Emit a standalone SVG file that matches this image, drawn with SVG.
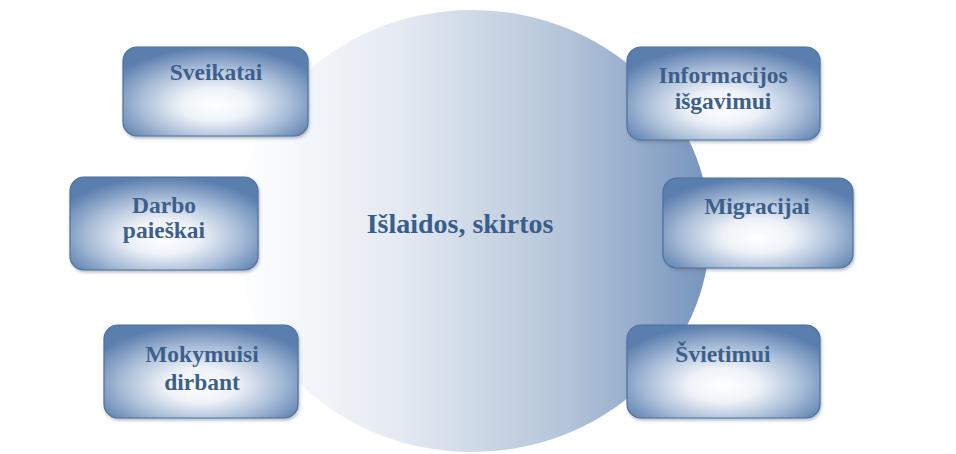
<svg xmlns="http://www.w3.org/2000/svg" width="956" height="454" viewBox="0 0 956 454">
  <defs>
    <linearGradient id="gBig" x1="0" y1="0" x2="1" y2="0">
      <stop offset="0" stop-color="#ffffff"/>
      <stop offset="0.35" stop-color="#e4eaf2"/>
      <stop offset="0.7" stop-color="#b4c4d9"/>
      <stop offset="1" stop-color="#7594bd"/>
    </linearGradient>
    <radialGradient id="gBox" cx="0.5" cy="0.62" r="0.62" fx="0.5" fy="0.66">
      <stop offset="0" stop-color="#ffffff"/>
      <stop offset="0.3" stop-color="#eef2f8"/>
      <stop offset="0.65" stop-color="#a9bdd8"/>
      <stop offset="1" stop-color="#5a7eae"/>
    </radialGradient>
    <filter id="sh" x="-10%" y="-10%" width="125%" height="130%">
      <feDropShadow dx="1" dy="2" stdDeviation="1.5" flood-color="#5a6e88" flood-opacity="0.45"/>
    </filter>
  </defs>
  <style>
    .box { fill: url(#gBox); stroke: #4f719e; stroke-width: 1.2; filter: url(#sh); }
    .lbl { font-family: "Liberation Serif", "Times New Roman", serif; font-weight: bold; font-size: 23.5px; fill: #3d5f8c; text-anchor: middle; }
    .main { font-family: "Liberation Serif", "Times New Roman", serif; font-weight: bold; font-size: 28px; fill: #3a5d8b; text-anchor: middle; }
  </style>
  <rect width="956" height="454" fill="#ffffff"/>
  <g id="center">
    <ellipse cx="472" cy="231" rx="238" ry="221" fill="url(#gBig)"/>
    <text class="main" x="460" y="233">Išlaidos, skirtos</text>
  </g>
  <g id="connectors"></g>
  <g id="sveikatai">
    <rect class="box" x="123" y="47" width="185" height="89" rx="14"/>
    <text class="lbl" x="216" y="80">Sveikatai</text>
  </g>
  <g id="informacijos">
    <rect class="box" x="627" y="47" width="193" height="93" rx="14"/>
    <text class="lbl" x="723" y="83">Informacijos</text>
    <text class="lbl" x="723" y="109">išgavimui</text>
  </g>
  <g id="darbo">
    <rect class="box" x="70" y="177" width="188" height="93" rx="14"/>
    <text class="lbl" x="164" y="213">Darbo</text>
    <text class="lbl" x="164" y="238">paieškai</text>
  </g>
  <g id="migracijai">
    <rect class="box" x="663" y="178" width="190" height="90" rx="14"/>
    <text class="lbl" x="757" y="214">Migracijai</text>
  </g>
  <g id="mokymuisi">
    <rect class="box" x="104" y="325" width="194" height="93" rx="14"/>
    <text class="lbl" x="202" y="362">Mokymuisi</text>
    <text class="lbl" x="202" y="390">dirbant</text>
  </g>
  <g id="svietimui">
    <rect class="box" x="627" y="325" width="193" height="93" rx="14"/>
    <text class="lbl" x="723" y="362">Švietimui</text>
  </g>
</svg>
